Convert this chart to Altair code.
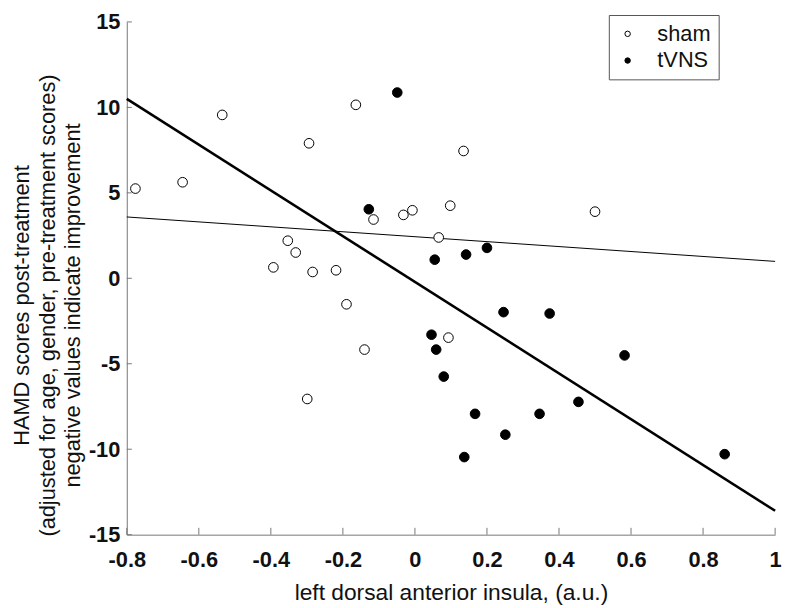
import altair as alt
import pandas as pd

# --- data ---
sham_x = [-0.776, -0.645, -0.535, -0.294, -0.164, -0.115, -0.032, -0.007, 0.066, -0.353,
          -0.331, -0.393, -0.284, -0.219, -0.19, -0.14, -0.299, 0.093, 0.135, 0.098, 0.5]
sham_y = [5.25, 5.62, 9.56, 7.9, 10.15, 3.44, 3.71, 3.98, 2.39, 2.2,
          1.51, 0.64, 0.37, 0.47, -1.52, -4.17, -7.06, -3.47, 7.45, 4.25, 3.9]

tvns_x = [-0.049, -0.128, 0.055, 0.142, 0.2, 0.246, 0.374, 0.046, 0.059, 0.08,
          0.167, 0.346, 0.454, 0.582, 0.251, 0.137, 0.86]
tvns_y = [10.87, 4.04, 1.09, 1.39, 1.78, -1.98, -2.06, -3.30, -4.17, -5.75,
          -7.93, -7.93, -7.23, -4.51, -9.15, -10.46, -10.29]

fit_x = [-0.8, 1.0]
fit_thick_y = [10.5, -13.6]
fit_thin_y = [3.59, 0.99]

x_ticks = [-0.8, -0.6, -0.4, -0.2, 0, 0.2, 0.4, 0.6, 0.8, 1]
y_ticks = [-15, -10, -5, 0, 5, 10, 15]

groups = ["sham", "tVNS"]

pts = pd.DataFrame({
    "x": sham_x + tvns_x,
    "y": sham_y + tvns_y,
    "group": ["sham"] * len(sham_x) + ["tVNS"] * len(tvns_x),
})
fits = pd.DataFrame({
    "x": fit_x + fit_x,
    "y": fit_thick_y + fit_thin_y,
    "fit": ["thick", "thick", "thin", "thin"],
})
xt = pd.DataFrame({"t": x_ticks, "y0": -15.0, "y1": -14.6})
yt = pd.DataFrame({"t": y_ticks, "x0": -0.8, "x1": -0.786})

FONT = "Liberation Sans"
TXT = "#111111"

xscale = alt.Scale(domain=[-0.8, 1.0], nice=False, zero=False)
yscale = alt.Scale(domain=[-15, 15], nice=False, zero=False)

xaxis = alt.Axis(values=x_ticks, tickSize=0, grid=False, domainColor="#777777",
                 labelFont=FONT, labelFontSize=22, labelFontWeight="bold", labelColor=TXT,
                 labelPadding=15, labelFlush=False, labelExpr="'' + datum.value",
                 title="left dorsal anterior insula, (a.u.)", titleFont=FONT, titleFontSize=23,
                 titleFontWeight="normal", titleColor=TXT, titlePadding=11)
yaxis = alt.Axis(values=y_ticks, tickSize=0, grid=False, domainColor="#777777",
                 labelFont=FONT, labelFontSize=22, labelFontWeight="bold", labelColor=TXT,
                 labelPadding=7, labelFlush=False, labelExpr="'' + datum.value",
                 title=["HAMD scores post-treatment",
                        "(adjusted for age, gender, pre-treatment scores)",
                        "negative values indicate improvement"],
                 titleFont=FONT, titleFontSize=22, titleFontWeight="normal", titleColor=TXT,
                 titleLineHeight=25.5, titlePadding=4, titleY=286)

lines = alt.Chart(fits).mark_line(color="black").encode(
    x=alt.X("x:Q", scale=xscale, axis=xaxis),
    y=alt.Y("y:Q", scale=yscale, axis=yaxis),
    detail="fit:N",
    strokeWidth=alt.StrokeWidth("fit:N", scale=alt.Scale(domain=["thick", "thin"], range=[2.6, 1.0]),
                                legend=None),
)

xticks = alt.Chart(xt).mark_rule(color="#777777", strokeWidth=1).encode(
    x=alt.X("t:Q", scale=xscale), y=alt.Y("y0:Q", scale=yscale), y2="y1:Q")
yticks = alt.Chart(yt).mark_rule(color="#777777", strokeWidth=1).encode(
    y=alt.Y("t:Q", scale=yscale), x=alt.X("x0:Q", scale=xscale), x2="x1:Q")

points = alt.Chart(pts).mark_point(filled=True, size=95, stroke="black", strokeWidth=1, opacity=1).encode(
    x=alt.X("x:Q", scale=xscale),
    y=alt.Y("y:Q", scale=yscale),
    fill=alt.Fill("group:N", scale=alt.Scale(domain=groups, range=["white", "black"]),
                  legend=alt.Legend(title=None, orient="none", legendX=487, legendY=-7,
                                    strokeColor="#555555", padding=8, fillColor="white",
                                    symbolType="circle", symbolSize=30, symbolStrokeColor="black",
                                    symbolStrokeWidth=1, labelFont=FONT, labelFontSize=22,
                                    labelColor=TXT, rowPadding=5, symbolOffset=0,
                                    labelOffset=19)),
)

chart = alt.layer(lines, xticks, yticks, points).properties(
    width=655, height=518,
    autosize=alt.AutoSizeParams(type="none"),
    padding={"left": 120, "top": 11, "right": 11, "bottom": 72},
).configure_view(stroke=None)

chart.save("out.html", embed_options={"renderer": "svg", "actions": False})
